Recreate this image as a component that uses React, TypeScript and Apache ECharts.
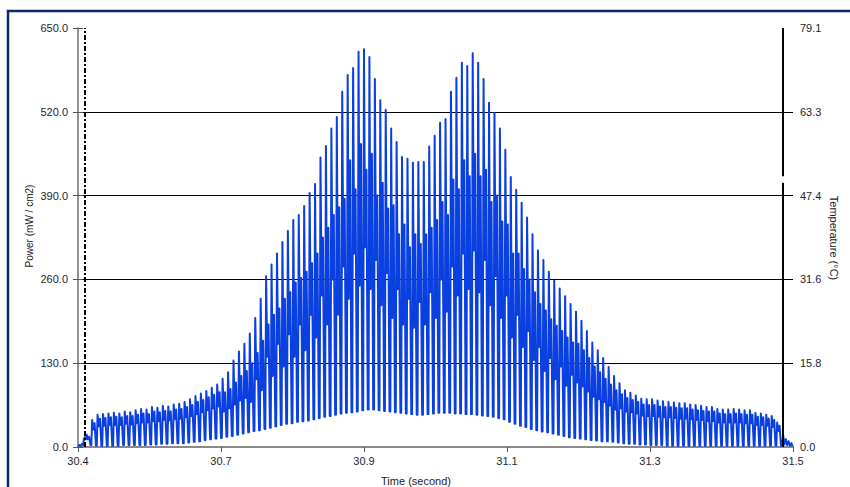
import React, { useEffect, useRef } from "react";
import * as echarts from "echarts";

// ---- tick labels ----
const timeTickLabels = ["30.4", "30.7", "30.9", "31.1", "31.3", "31.5"];
const tempTickLabels = ["0.0", "15.8", "31.6", "47.4", "63.3", "79.1"];

// ---- signal: time offsets (s, relative to first tick) ----
const cycleStart = 0.01089;
const cyclePeriod = 0.008364;

// samples before first pulse cycle: [timeOffset, power]
const leadIn: [number, number][] = [
  [0.0, 1], [0.0025, 3], [0.0045, 2], [0.0065, 5], [0.008, 3], [0.0092, 13], [0.0102, 15],
];
// samples after the last pulse cycle
const tailOut: [number, number][] = [
  [1.0815, 2], [1.0835, 3], [1.0848, 18], [1.0868, 4], [1.089, 12], [1.091, 3],
  [1.0932, 9], [1.0952, 2], [1.0975, 6], [1.0995, 1],
];

// per cycle values (mW/cm2)
const mainPeaks = [
  19, 42, 50, 51, 52, 53, 52, 55, 54, 57,
  59, 58, 62, 61, 64, 63, 66, 67, 70, 74,
  79, 83, 87, 92, 97, 106, 116, 134, 148, 160,
  176, 200, 230, 265, 283, 300, 318, 335, 352, 360,
  374, 394, 408, 449, 467, 494, 512, 551, 577, 588,
  613, 617, 605, 571, 538, 523, 494, 473, 450, 447,
  441, 442, 442, 466, 483, 503, 509, 551, 573, 596,
  591, 611, 596, 571, 534, 518, 494, 461, 419, 399,
  379, 356, 330, 305, 290, 272, 258, 246, 234, 222,
  210, 196, 180, 162, 150, 138, 124, 110, 99, 88,
  84, 80, 75, 74, 74, 72, 71, 70, 69, 68,
  68, 66, 65, 64, 62, 62, 59, 58, 58, 59,
  58, 57, 57, 53, 52, 50, 48, 38,
];
const secondPeaks = [
  16, 37, 44, 45, 46, 47, 46, 48, 48, 50,
  52, 51, 55, 54, 56, 55, 58, 59, 62, 65,
  70, 73, 77, 81, 85, 85, 90, 100, 110, 118,
  130, 146, 165, 190, 205, 215, 230, 240, 255, 262,
  272, 285, 300, 325, 340, 360, 372, 385, 445, 400,
  470, 430, 455, 390, 410, 370, 375, 330, 345, 310,
  330, 315, 330, 340, 352, 380, 360, 415, 400, 445,
  420, 455, 420, 430, 380, 390, 350, 345, 300, 300,
  276, 260, 240, 222, 212, 198, 188, 180, 170, 162,
  160, 150, 138, 125, 116, 106, 97, 88, 82, 76,
  73, 70, 66, 65, 65, 63, 62, 62, 61, 60,
  60, 58, 57, 56, 55, 55, 52, 51, 51, 52,
  51, 50, 50, 47, 46, 44, 42, 33,
];
const dips = [
  12, 27, 32, 33, 34, 34, 34, 36, 35, 37,
  38, 38, 40, 40, 42, 41, 43, 44, 46, 48,
  51, 54, 57, 60, 63, 55, 60, 66, 72, 76,
  70, 105, 88, 140, 110, 160, 125, 175, 140, 190,
  150, 205, 170, 235, 190, 260, 205, 280, 230, 300,
  250, 310, 245, 290, 220, 270, 200, 245, 190, 230,
  185, 225, 190, 240, 200, 260, 210, 280, 235, 300,
  245, 305, 240, 290, 220, 265, 200, 235, 170, 205,
  155, 180, 135, 155, 118, 138, 105, 125, 95, 112,
  100, 94, 86, 78, 74, 70, 64, 58, 60, 55,
  54, 52, 49, 48, 48, 47, 46, 46, 45, 44,
  44, 43, 42, 42, 40, 40, 38, 38, 38, 38,
  38, 37, 37, 34, 34, 33, 31, 25,
];
const troughs = [
  12, 3, 2, 2, 2, 2, 2, 3, 3, 3,
  3, 3, 4, 4, 5, 5, 6, 6, 6, 7,
  8, 9, 11, 12, 13, 14, 16, 17, 19, 21,
  23, 25, 26, 28, 30, 32, 34, 36, 37, 39,
  40, 41, 43, 45, 47, 48, 50, 52, 53, 54,
  55, 57, 58, 58, 57, 56, 55, 54, 53, 52,
  51, 50, 50, 51, 52, 53, 53, 53, 52, 52,
  51, 51, 50, 49, 48, 47, 45, 43, 39, 36,
  33, 31, 28, 26, 24, 23, 21, 19, 17, 15,
  14, 13, 12, 11, 10, 9, 9, 8, 7, 6,
  5, 5, 4, 4, 3, 3, 3, 2, 2, 2,
  2, 2, 2, 2, 2, 2, 2, 2, 2, 2,
  2, 2, 2, 2, 2, 2, 2, 2,
];

// cursors (time offsets)
const cursorDashTime = 0.01464;
const cursorSolidTime = 1.0843;
const cursorSolidSegments: [number, number][] = [[650, 420], [410, 0]];

// sample phases inside one cycle
const phaseFlat = 0.15;
const phaseMain = 0.3;
const phaseDip = 0.5;
const phaseSecond = 0.75;

function buildSignal(): [number, number][] {
  const out: [number, number][] = [];
  leadIn.forEach((p) => out.push(p));
  for (let k = 0; k < mainPeaks.length; k++) {
    const t = cycleStart + k * cyclePeriod;
    out.push([t, troughs[k]]);
    out.push([t + phaseFlat * cyclePeriod, troughs[k]]);
    out.push([t + phaseMain * cyclePeriod, mainPeaks[k]]);
    out.push([t + phaseDip * cyclePeriod, dips[k]]);
    out.push([t + phaseSecond * cyclePeriod, secondPeaks[k]]);
  }
  tailOut.forEach((p) => out.push(p));
  return out;
}

const FONT = "Liberation Sans";
const LABEL_COLOR = "#262633";
const BORDER_GRAY = "#8a8a8a";

export default function App() {
  const ref = useRef<HTMLDivElement>(null);
  useEffect(() => {
    if (!ref.current) return;
    const chart = echarts.init(ref.current, undefined, { renderer: "svg" });
    const signal = buildSignal();
    chart.setOption({
      animation: false,
      backgroundColor: "#ffffff",
      grid: { left: 78, right: 57, top: 28, bottom: 40, containLabel: false },
      xAxis: [
        {
          type: "value",
          min: 0,
          max: 1.1,
          interval: 0.22,
          position: "bottom",
          axisLine: { show: true, lineStyle: { color: BORDER_GRAY, width: 2 } },
          axisTick: { show: true, length: 5, lineStyle: { color: "#555" } },
          axisLabel: {
            margin: 8,
            color: LABEL_COLOR,
            fontFamily: FONT,
            fontSize: 11,
            formatter: (v: number) => timeTickLabels[Math.round(v / 0.22)] ?? "",
          },
          splitLine: { show: false },
        },
        {
          type: "value",
          min: 0,
          max: 1.1,
          position: "top",
          axisLine: { show: true, lineStyle: { color: BORDER_GRAY, width: 2 } },
          axisTick: { show: false },
          axisLabel: { show: false },
          splitLine: { show: false },
        },
      ],
      yAxis: [
        {
          type: "value",
          min: 0,
          max: 650,
          interval: 130,
          position: "left",
          axisLine: { show: true, lineStyle: { color: BORDER_GRAY, width: 1.5 } },
          axisTick: { show: true, length: 5, lineStyle: { color: "#555" } },
          axisLabel: {
            margin: 10,
            color: LABEL_COLOR,
            fontFamily: FONT,
            fontSize: 11,
            formatter: (v: number) => v.toFixed(1),
          },
          splitLine: {
            show: true,
            showMinLine: false,
            showMaxLine: false,
            lineStyle: { color: "#000000", width: 1 },
          },
        },
        {
          type: "value",
          min: 0,
          max: 5,
          interval: 1,
          position: "right",
          axisLine: { show: true, lineStyle: { color: BORDER_GRAY, width: 1.5 } },
          axisTick: { show: true, length: 5, lineStyle: { color: "#555" } },
          axisLabel: {
            margin: 7,
            color: LABEL_COLOR,
            fontFamily: FONT,
            fontSize: 11,
            formatter: (v: number) => tempTickLabels[Math.round(v)] ?? "",
          },
          splitLine: { show: false },
        },
      ],
      series: [
        {
          type: "line",
          xAxisIndex: 0,
          yAxisIndex: 0,
          data: signal,
          showSymbol: false,
          symbol: "none",
          lineStyle: { color: "#0a3fe0", width: 2, join: "round" },
          z: 3,
          markLine: {
            silent: true,
            symbol: ["none", "none"],
            label: { show: false },
            z: 5,
            data: [
              {
                xAxis: cursorDashTime,
                lineStyle: { color: "#000", width: 2, type: [5, 2, 2, 2] },
              },
              ...cursorSolidSegments.map((seg) => [
                { coord: [cursorSolidTime, seg[0]], lineStyle: { color: "#000", width: 2, type: "solid" } },
                { coord: [cursorSolidTime, seg[1]] },
              ]),
            ],
          },
        },
      ],
      graphic: [
        {
          type: "rect",
          shape: { x: 8, y: 11, width: 1000, height: 1000 },
          style: { fill: "none", stroke: "#0c2a6b", lineWidth: 2.5 },
          silent: true,
          z: 10,
        },
        {
          type: "text",
          x: 29,
          y: 226,
          rotation: Math.PI / 2,
          style: {
            text: "Power (mW / cm2)",
            fontFamily: FONT,
            fontSize: 10,
            fill: "#222",
            align: "center",
            verticalAlign: "middle",
          },
        },
        {
          type: "text",
          x: 834,
          y: 238,
          rotation: -Math.PI / 2,
          style: {
            text: "Temperature (°C)",
            fontFamily: FONT,
            fontSize: 11,
            fill: "#222",
            align: "center",
            verticalAlign: "middle",
          },
        },
        {
          type: "text",
          x: 416,
          y: 481,
          style: {
            text: "Time (second)",
            fontFamily: FONT,
            fontSize: 11,
            fill: "#222",
            align: "center",
            verticalAlign: "middle",
          },
        },
      ],
    });
    return () => chart.dispose();
  }, []);
  return (
    <div
      ref={ref}
      style={{ position: "fixed", left: 0, top: 0, width: 850, height: 487, background: "#fff" }}
    />
  );
}
